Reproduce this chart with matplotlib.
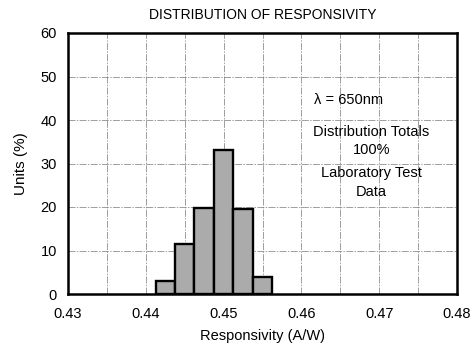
import matplotlib
matplotlib.use("Agg")
import matplotlib.pyplot as plt
import numpy as np

plt.rcParams['font.family'] = ['Liberation Sans', 'DejaVu Sans']

bin_centers = [0.4425, 0.445, 0.4475, 0.45, 0.4525, 0.455]
units_pct = [3.1, 11.5, 19.7, 33.1, 19.5, 4.0]
bin_width = 0.0025
x_ticks = [0.43, 0.44, 0.45, 0.46, 0.47, 0.48]
x_tick_labels = ["0.43", "0.44", "0.45", "0.46", "0.47", "0.48"]
y_ticks = [0, 10, 20, 30, 40, 50, 60]

fig = plt.figure(figsize=(4.76, 3.49), dpi=100)
ax = fig.add_axes([68/476, 55/349, 389/476, 261/349])

ax.set_xlim(0.43, 0.48)
ax.set_ylim(0, 60)

# grid
for gx in np.arange(0.435, 0.48, 0.005):
    ax.axvline(gx, color='#777777', lw=0.5, ls=(0, (10, 2, 2, 2)), zorder=0)
for gy in [10, 20, 30, 40, 50]:
    ax.axhline(gy, color='#777777', lw=0.5, ls=(0, (10, 2, 2, 2)), zorder=0)

ax.bar(bin_centers, units_pct, width=bin_width, color='#ababab',
       edgecolor='black', linewidth=1.7, zorder=2)

ax.set_xticks(x_ticks)
ax.set_xticklabels(x_tick_labels)
ax.set_yticks(y_ticks)
ax.tick_params(length=0, labelsize=10.5, pad=9)
ax.tick_params(axis='y', pad=8)
for s in ax.spines.values():
    s.set_linewidth(1.8)

ax.set_xlabel("Responsivity (A/W)", fontsize=10.5, labelpad=6)
ax.set_ylabel("Units (%)", fontsize=11, labelpad=9)
ax.set_title("DISTRIBUTION OF RESPONSIVITY", fontsize=10, pad=10)

ax.text(0.4661, 44.6, "λ = 650nm", ha='center', va='center', fontsize=10.5)
ax.text(0.469, 37.3, "Distribution Totals", ha='center', va='center', fontsize=10.5)
ax.text(0.469, 33.1, "100%", ha='center', va='center', fontsize=10.5)
ax.text(0.469, 27.8, "Laboratory Test", ha='center', va='center', fontsize=10.5)
ax.text(0.469, 23.5, "Data", ha='center', va='center', fontsize=10.5)

fig.savefig("out.png", dpi=100)
